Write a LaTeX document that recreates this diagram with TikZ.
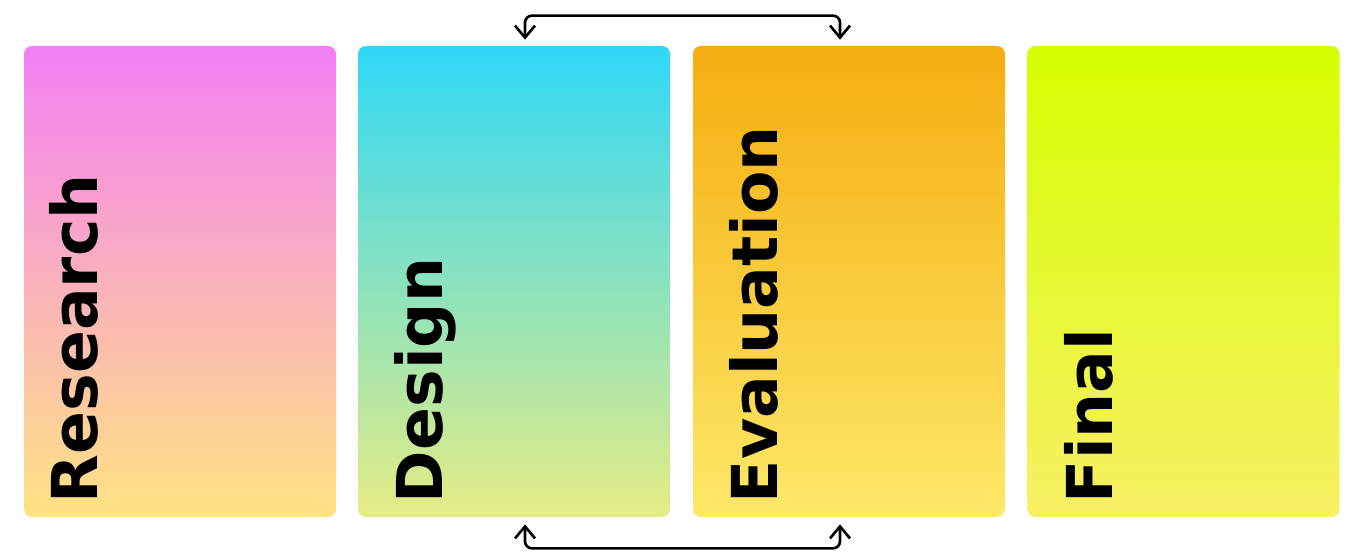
\documentclass[tikz,border=0pt]{standalone}
\usepackage{fontspec}
\setmainfont{DejaVu Sans}
\usetikzlibrary{arrows.meta, positioning, calc}
\definecolor{rsTop}{HTML}{F47FF6}
\definecolor{rsBot}{HTML}{FFE382}
\definecolor{dsTop}{HTML}{2FD8F8}
\definecolor{dsBot}{HTML}{E6EC85}
\definecolor{evTop}{HTML}{F5AE10}
\definecolor{evBot}{HTML}{FDE868}
\definecolor{fnTop}{HTML}{D5FF00}
\definecolor{fnBot}{HTML}{F8F065}
\tikzset{
  phase/.style={
    minimum width=6.24cm, minimum height=9.42cm,
    rounded corners=0.16cm, inner sep=0pt
  },
  phaselbl/.style={
    rotate=90, anchor=base west, inner sep=0pt,
    font=\fontsize{36}{36}\selectfont\bfseries, text=black
  },
  loopback/.style={
    {Straight Barb[length=2.4mm,width=4mm]}-{Straight Barb[length=2.4mm,width=4mm]},
    line width=1.5pt, rounded corners=0.14cm, draw=black
  },
}

\begin{document}
\begin{tikzpicture}
  \useasboundingbox (0,0) rectangle (27.04,11.16);
  \node[phase, top color=rsTop, bottom color=rsBot] (research) at (3.60,5.53) {};
  \node[phase, top color=dsTop, bottom color=dsBot] (design) at (10.28,5.53) {};
  \node[phase, top color=evTop, bottom color=evBot] (eval) at (16.98,5.53) {};
  \node[phase, top color=fnTop, bottom color=fnBot] (final) at (23.67,5.53) {};

  \node[phaselbl] (researchlbl) at ([xshift=1.48cm,yshift=0.28cm]research.south west) {Research};
  \node[phaselbl] (designlbl) at ([xshift=1.70cm,yshift=0.28cm]design.south west) {Design};
  \node[phaselbl] (evallbl) at ([xshift=1.70cm,yshift=0.28cm]eval.south west) {Evaluation};
  \node[phaselbl] (finallbl) at ([xshift=1.70cm,yshift=0.28cm]final.south west) {Final};

  % iteration between design and evaluation
  \coordinate (dtop) at ([xshift=0.22cm,yshift=0.12cm]design.north);
  \coordinate (etop) at ([xshift=-0.18cm,yshift=0.12cm]eval.north);
  \coordinate (dbot) at ([xshift=0.22cm,yshift=-0.14cm]design.south);
  \coordinate (ebot) at ([xshift=-0.18cm,yshift=-0.14cm]eval.south);
  \draw[loopback] (dtop) -- ++(0,0.48) -| (etop);
  \draw[loopback] (dbot) -- ++(0,-0.48) -| (ebot);
\end{tikzpicture}
\end{document}
